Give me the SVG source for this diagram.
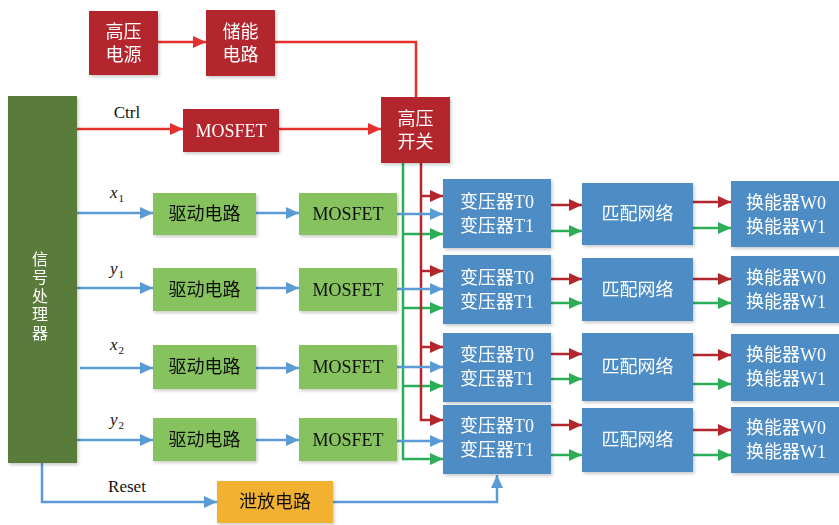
<svg xmlns="http://www.w3.org/2000/svg" width="839" height="525" viewBox="0 0 839 525">
<style>
.t{font-family:"Liberation Serif","Noto Sans CJK SC",serif;font-size:18px;text-anchor:middle;dominant-baseline:central}
.v{font-size:16px}
.w{fill:#fff}
.k{fill:#111}
.red{fill:#B3262D}
.dg{fill:#5A7B3A}
.lg{fill:#86C25D}
.bl{fill:#4E8CC4}
.or{fill:#F3B133}
.ln{fill:none;stroke-width:2.5}
.r1{stroke:#E5302E}
.r2{stroke:#B3262D}
.g{stroke:#2BAE57}
.b{stroke:#5B9BD5}
.lab{font-family:"Liberation Serif",serif;font-size:17px;fill:#111}
</style>
<defs>
<filter id="sh" x="-10%" y="-10%" width="130%" height="130%"><feDropShadow dx="1.5" dy="2" stdDeviation="1.5" flood-color="#000" flood-opacity="0.2"/></filter>
<marker id="ar1" markerUnits="userSpaceOnUse" markerWidth="13" markerHeight="12" refX="13" refY="6" orient="auto"><path d="M0,0 L13,6 L0,12 z" fill="#E5302E"/></marker>
<marker id="ar2" markerUnits="userSpaceOnUse" markerWidth="13" markerHeight="12" refX="13" refY="6" orient="auto"><path d="M0,0 L13,6 L0,12 z" fill="#B3262D"/></marker>
<marker id="ag" markerUnits="userSpaceOnUse" markerWidth="13" markerHeight="12" refX="13" refY="6" orient="auto"><path d="M0,0 L13,6 L0,12 z" fill="#2BAE57"/></marker>
<marker id="ab" markerUnits="userSpaceOnUse" markerWidth="13" markerHeight="12" refX="13" refY="6" orient="auto"><path d="M0,0 L13,6 L0,12 z" fill="#5B9BD5"/></marker>
</defs>
<rect width="839" height="525" fill="#fff"/>
<g id="connectors">
<line class="ln r1" x1="158" y1="42" x2="206" y2="42" marker-end="url(#ar1)"/>
<polyline class="ln r1" points="275,42 416,42 416,97"/>
<line class="ln r1" x1="77" y1="129" x2="183" y2="129" marker-end="url(#ar1)"/>
<line class="ln r1" x1="279" y1="129" x2="381" y2="129" marker-end="url(#ar1)"/>
<path class="ln g" d="M403,163 V459 H443" marker-end="url(#ag)"/>
<line class="ln g" x1="403" y1="234" x2="443" y2="234" marker-end="url(#ag)"/>
<line class="ln g" x1="403" y1="308" x2="443" y2="308" marker-end="url(#ag)"/>
<line class="ln g" x1="403" y1="386" x2="443" y2="386" marker-end="url(#ag)"/>
<path class="ln r2" d="M421,163 V420 H443" marker-end="url(#ar2)"/>
<line class="ln r2" x1="421" y1="196" x2="443" y2="196" marker-end="url(#ar2)"/>
<line class="ln r2" x1="421" y1="271" x2="443" y2="271" marker-end="url(#ar2)"/>
<line class="ln r2" x1="421" y1="347" x2="443" y2="347" marker-end="url(#ar2)"/>
<line class="ln b" x1="77" y1="213" x2="153" y2="213" marker-end="url(#ab)"/>
<line class="ln b" x1="77" y1="288" x2="153" y2="288" marker-end="url(#ab)"/>
<line class="ln b" x1="80" y1="368" x2="153" y2="368" marker-end="url(#ab)"/>
<line class="ln b" x1="77" y1="440" x2="153" y2="440" marker-end="url(#ab)"/>
<line class="ln b" x1="256" y1="213" x2="299" y2="213" marker-end="url(#ab)"/>
<line class="ln b" x1="256" y1="288" x2="299" y2="288" marker-end="url(#ab)"/>
<line class="ln b" x1="256" y1="368" x2="299" y2="368" marker-end="url(#ab)"/>
<line class="ln b" x1="256" y1="440" x2="299" y2="440" marker-end="url(#ab)"/>
<line class="ln b" x1="397" y1="214" x2="443" y2="214" marker-end="url(#ab)"/>
<line class="ln b" x1="397" y1="289" x2="443" y2="289" marker-end="url(#ab)"/>
<line class="ln b" x1="397" y1="367" x2="443" y2="367" marker-end="url(#ab)"/>
<line class="ln b" x1="397" y1="441" x2="443" y2="441" marker-end="url(#ab)"/>
<line class="ln r2" x1="551" y1="205" x2="582" y2="205" marker-end="url(#ar2)"/>
<line class="ln g" x1="551" y1="231" x2="582" y2="231" marker-end="url(#ag)"/>
<line class="ln r2" x1="551" y1="279" x2="582" y2="279" marker-end="url(#ar2)"/>
<line class="ln g" x1="551" y1="303" x2="582" y2="303" marker-end="url(#ag)"/>
<line class="ln r2" x1="551" y1="354" x2="582" y2="354" marker-end="url(#ar2)"/>
<line class="ln g" x1="551" y1="379" x2="582" y2="379" marker-end="url(#ag)"/>
<line class="ln r2" x1="551" y1="425" x2="582" y2="425" marker-end="url(#ar2)"/>
<line class="ln g" x1="551" y1="455" x2="582" y2="455" marker-end="url(#ag)"/>
<line class="ln r2" x1="693" y1="202" x2="731" y2="202" marker-end="url(#ar2)"/>
<line class="ln g" x1="693" y1="228" x2="731" y2="228" marker-end="url(#ag)"/>
<line class="ln r2" x1="693" y1="279" x2="731" y2="279" marker-end="url(#ar2)"/>
<line class="ln g" x1="693" y1="303" x2="731" y2="303" marker-end="url(#ag)"/>
<line class="ln r2" x1="693" y1="355" x2="731" y2="355" marker-end="url(#ar2)"/>
<line class="ln g" x1="693" y1="384" x2="731" y2="384" marker-end="url(#ag)"/>
<line class="ln r2" x1="693" y1="430" x2="731" y2="430" marker-end="url(#ar2)"/>
<line class="ln g" x1="693" y1="455" x2="731" y2="455" marker-end="url(#ag)"/>
<path class="ln b" d="M42,463 V502 H217" marker-end="url(#ab)"/>
<path class="ln b" d="M333,502 H497 V475" marker-end="url(#ab)"/>
<text class="lab" x="127" y="118" text-anchor="middle">Ctrl</text>
<text class="lab" x="127" y="492" text-anchor="middle">Reset</text>
<text class="lab" x="110" y="198" font-style="italic">x<tspan font-size="11" font-style="normal" dx="1" dy="4">1</tspan></text>
<text class="lab" x="110" y="274" font-style="italic">y<tspan font-size="11" font-style="normal" dx="1" dy="4">1</tspan></text>
<text class="lab" x="110" y="350" font-style="italic">x<tspan font-size="11" font-style="normal" dx="1" dy="4">2</tspan></text>
<text class="lab" x="110" y="425" font-style="italic">y<tspan font-size="11" font-style="normal" dx="1" dy="4">2</tspan></text>
</g>
<g id="hv-source" filter="url(#sh)"><rect class="red" x="89" y="11" width="69" height="64"/><text class="t w" x="123.5" y="32">高压</text><text class="t w" x="123.5" y="55">电源</text></g>
<g id="storage" filter="url(#sh)"><rect class="red" x="206" y="10" width="69" height="66"/><text class="t w" x="240.5" y="32">储能</text><text class="t w" x="240.5" y="55">电路</text></g>
<g id="mosfet-ctrl" filter="url(#sh)"><rect class="red" x="183" y="109" width="96" height="43"/><text class="t w" x="231" y="130.5">MOSFET</text></g>
<g id="hv-switch" filter="url(#sh)"><rect class="red" x="381" y="97" width="69" height="66"/><text class="t w" x="415.5" y="119">高压</text><text class="t w" x="415.5" y="142">开关</text></g>
<g id="processor" filter="url(#sh)"><rect class="dg" x="8" y="96" width="69" height="367"/>
<text class="t v w" x="40" y="259">信</text><text class="t v w" x="40" y="277.5">号</text><text class="t v w" x="40" y="296">处</text><text class="t v w" x="40" y="314.5">理</text><text class="t v w" x="40" y="333">器</text></g>
<g id="drive1" filter="url(#sh)"><rect class="lg" x="153" y="193" width="103" height="42"/><text class="t k" x="204.5" y="214">驱动电路</text></g>
<g id="drive2" filter="url(#sh)"><rect class="lg" x="153" y="268" width="103" height="43"/><text class="t k" x="204.5" y="289.5">驱动电路</text></g>
<g id="drive3" filter="url(#sh)"><rect class="lg" x="153" y="345" width="103" height="44"/><text class="t k" x="204.5" y="367">驱动电路</text></g>
<g id="drive4" filter="url(#sh)"><rect class="lg" x="153" y="418" width="103" height="43"/><text class="t k" x="204.5" y="439.5">驱动电路</text></g>
<g id="mos1" filter="url(#sh)"><rect class="lg" x="299" y="193" width="98" height="42"/><text class="t k" x="348" y="214">MOSFET</text></g>
<g id="mos2" filter="url(#sh)"><rect class="lg" x="299" y="268" width="98" height="43"/><text class="t k" x="348" y="289.5">MOSFET</text></g>
<g id="mos3" filter="url(#sh)"><rect class="lg" x="299" y="345" width="98" height="44"/><text class="t k" x="348" y="367">MOSFET</text></g>
<g id="mos4" filter="url(#sh)"><rect class="lg" x="299" y="418" width="98" height="43"/><text class="t k" x="348" y="439.5">MOSFET</text></g>
<g id="trans1" filter="url(#sh)"><rect class="bl" x="443" y="179" width="108" height="69"/><text class="t w" x="497" y="202">变压器T0</text><text class="t w" x="497" y="226">变压器T1</text></g>
<g id="trans2" filter="url(#sh)"><rect class="bl" x="443" y="255" width="108" height="69"/><text class="t w" x="497" y="278">变压器T0</text><text class="t w" x="497" y="302">变压器T1</text></g>
<g id="trans3" filter="url(#sh)"><rect class="bl" x="443" y="333" width="108" height="69"/><text class="t w" x="497" y="355">变压器T0</text><text class="t w" x="497" y="379">变压器T1</text></g>
<g id="trans4" filter="url(#sh)"><rect class="bl" x="443" y="405" width="108" height="69"/><text class="t w" x="497" y="426">变压器T0</text><text class="t w" x="497" y="450">变压器T1</text></g>
<g id="match1" filter="url(#sh)"><rect class="bl" x="582" y="183" width="111" height="62"/><text class="t w" x="637.5" y="214">匹配网络</text></g>
<g id="match2" filter="url(#sh)"><rect class="bl" x="582" y="258" width="111" height="63"/><text class="t w" x="637.5" y="289.5">匹配网络</text></g>
<g id="match3" filter="url(#sh)"><rect class="bl" x="582" y="333" width="111" height="68"/><text class="t w" x="637.5" y="367">匹配网络</text></g>
<g id="match4" filter="url(#sh)"><rect class="bl" x="582" y="408" width="111" height="64"/><text class="t w" x="637.5" y="440">匹配网络</text></g>
<g id="xd1" filter="url(#sh)"><rect class="bl" x="731" y="181" width="110" height="66"/><text class="t w" x="786" y="203">换能器W0</text><text class="t w" x="786" y="227">换能器W1</text></g>
<g id="xd2" filter="url(#sh)"><rect class="bl" x="731" y="256" width="110" height="67"/><text class="t w" x="786" y="278">换能器W0</text><text class="t w" x="786" y="302">换能器W1</text></g>
<g id="xd3" filter="url(#sh)"><rect class="bl" x="731" y="334" width="110" height="67"/><text class="t w" x="786" y="355">换能器W0</text><text class="t w" x="786" y="379">换能器W1</text></g>
<g id="xd4" filter="url(#sh)"><rect class="bl" x="731" y="407" width="110" height="66"/><text class="t w" x="786" y="428">换能器W0</text><text class="t w" x="786" y="452">换能器W1</text></g>
<g id="bleed" filter="url(#sh)"><rect class="or" x="217" y="481" width="116" height="42"/><text class="t k" x="275" y="502">泄放电路</text></g>
</svg>
